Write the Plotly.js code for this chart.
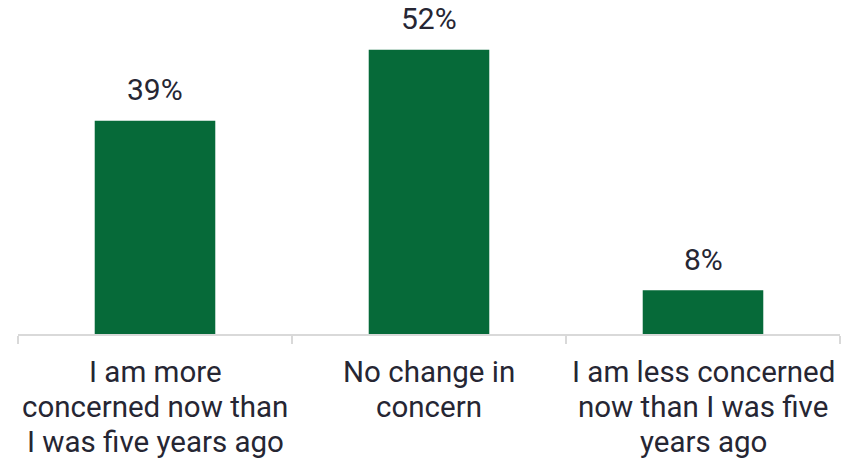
<!DOCTYPE html>
<html><head><meta charset="utf-8">
<script src="https://cdn.plot.ly/plotly-3.0.1.min.js"></script>
<style>html,body{margin:0;padding:0;background:#fff}#c{width:866px;height:459px}</style>
</head><body><div id="c"></div>
<script>
const categories = ["I am more concerned now than I was five years ago", "No change in concern", "I am less concerned now than I was five years ago"];
const tickLines = [
  ["I am more", "concerned now than", "I was five years ago"],
  ["No change in", "concern"],
  ["I am less concerned", "now than I was five", "years ago"]
];
const values = [39, 52, 8];
const labels = ["39%", "52%", "8%"];

const textColor = "#262633";
const catFont = {family: "Roboto, sans-serif", size: 29.5, color: textColor};
const valFont = {family: "Roboto, sans-serif", size: 30, color: textColor};
const annotations = [];
categories.forEach((c, i) => {
  annotations.push({
    x: c, y: values[i], text: labels[i], showarrow: false,
    yanchor: "middle", yshift: 31, font: valFont
  });
  tickLines[i].forEach((line, k) => {
    annotations.push({
      x: c, y: 0, text: line, showarrow: false,
      yanchor: "middle", yshift: -38 - 35 * k, font: catFont
    });
  });
});

Plotly.newPlot("c", [{
  type: "bar", x: categories, y: values,
  marker: {color: "#066a39"}, width: 0.44, hoverinfo: "none"
}], {
  width: 866, height: 459,
  margin: {l: 18, r: 26, t: 6, b: 125},
  paper_bgcolor: "#fff", plot_bgcolor: "#fff",
  showlegend: false,
  xaxis: {
    type: "category", tickson: "boundaries", ticks: "outside", ticklen: 8,
    tickcolor: "#d9d9d9", tickwidth: 2, showline: true, linecolor: "#d9d9d9", linewidth: 2,
    showticklabels: false, showgrid: false, zeroline: false
  },
  yaxis: {range: [0, 60], visible: false, showgrid: false, zeroline: false},
  annotations: annotations
}, {staticPlot: true});
</script></body></html>
